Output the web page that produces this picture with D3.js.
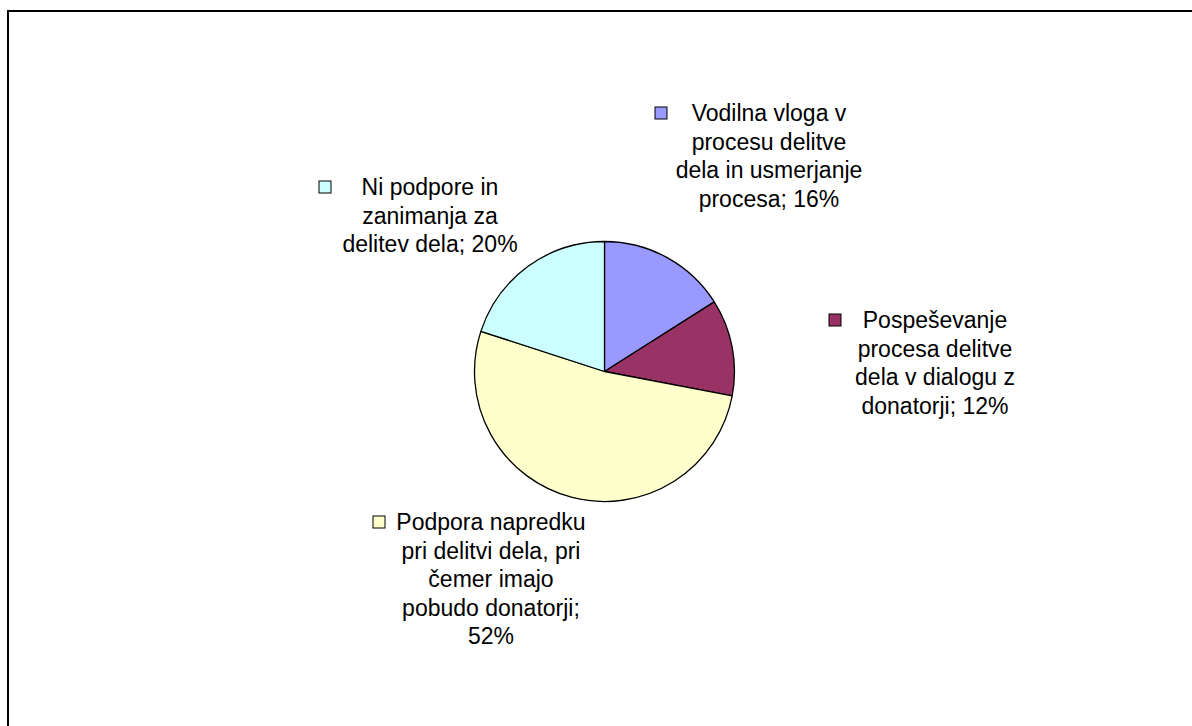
<!DOCTYPE html>
<html>
<head>
<meta charset="utf-8">
<script src="https://cdn.jsdelivr.net/npm/d3@7"></script>
<style>
  html, body { margin: 0; padding: 0; background: #fff; overflow: hidden; }
  svg { display: block; }
  text { font-family: "Liberation Sans", Arial, sans-serif; }
</style>
</head>
<body>
<script>
// Slice data, clockwise from 12 o'clock
const categories = [
  ["Vodilna vloga v", "procesu delitve", "dela in usmerjanje", "procesa; 16%"],
  ["Pospeševanje", "procesa delitve", "dela v dialogu z", "donatorji; 12%"],
  ["Podpora napredku", "pri delitvi dela, pri", "čemer imajo", "pobudo donatorji;", "52%"],
  ["Ni podpore in", "zanimanja za", "delitev dela; 20%"]
];
const values = [16, 12, 52, 20];
const colors = ["#9999FF", "#993366", "#FFFFCC", "#CCFFFF"];

// Label placement: line centre x, first baseline y, legend-key left x
const labelLayout = [
  { cx: 769, y: 121, kx: 655 },
  { cx: 935, y: 328, kx: 829 },
  { cx: 491, y: 530, kx: 373 },
  { cx: 430, y: 195, kx: 319 }
];

const W = 1192, H = 726;
const cx = 604.5, cy = 371.5, R = 130;
const lineStep = 28.5, fontSize = 23, keySize = 12;

const svg = d3.select("body").append("svg")
  .attr("width", W).attr("height", H);

svg.append("rect")
  .attr("x", 8).attr("y", 11)
  .attr("width", 1300).attr("height", 900)
  .attr("fill", "#fff")
  .attr("stroke", "#000").attr("stroke-width", 2);

const pie = d3.pie().sort(null).value(d => d)(values);
const arc = d3.arc().innerRadius(0).outerRadius(R);

svg.append("g")
  .attr("transform", `translate(${cx},${cy})`)
  .selectAll("path")
  .data(pie)
  .join("path")
  .attr("d", arc)
  .attr("fill", (d, i) => colors[i])
  .attr("stroke", "#000")
  .attr("stroke-width", 1.3)
  .attr("stroke-linejoin", "round");

const labels = svg.append("g")
  .selectAll("g")
  .data(categories)
  .join("g");

labels.append("text")
  .attr("text-anchor", "middle")
  .attr("font-size", fontSize)
  .attr("fill", "#000")
  .each(function (lines, i) {
    const L = labelLayout[i];
    d3.select(this).selectAll("tspan")
      .data(lines)
      .join("tspan")
      .attr("x", L.cx)
      .attr("y", (t, j) => L.y + j * lineStep)
      .text(t => t);
  });

labels.append("rect")
  .attr("x", (d, i) => labelLayout[i].kx)
  .attr("y", (d, i) => labelLayout[i].y - 14)
  .attr("width", keySize).attr("height", keySize)
  .attr("fill", (d, i) => colors[i])
  .attr("stroke", "#000").attr("stroke-width", 1);
</script>
</body>
</html>
